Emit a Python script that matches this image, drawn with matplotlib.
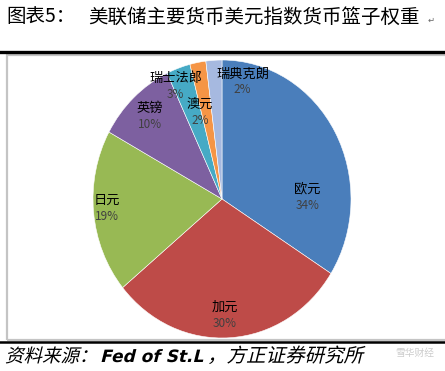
import matplotlib
matplotlib.use("Agg")
import matplotlib.pyplot as plt
from matplotlib.patches import Rectangle, PathPatch
from matplotlib.lines import Line2D
from matplotlib.textpath import TextPath
from matplotlib.font_manager import FontProperties
from matplotlib.transforms import Affine2D, IdentityTransform

plt.rcParams["font.family"] = ["Noto Sans CJK SC", "DejaVu Sans"]

# 数据
currencies = ["欧元", "加元", "日元", "英镑", "瑞士法郎", "澳元", "瑞典克朗"]
weights = [34, 30, 19, 10, 3, 2, 2]
colors = ["#4A7EBB", "#BE4B48", "#98B954", "#7D60A0", "#46AAC5", "#F59546", "#A6B9E0"]

# 标签位置（Excel 最佳匹配放置，数据坐标）
label_pos = [(0.66, 0.02), (0.02, -0.83), (-0.89, -0.06), (-0.56, 0.60),
             (-0.36, 0.82), (-0.17, 0.63), (0.16, 0.85)]

W, H = 445, 371
fig = plt.figure(figsize=(W / 100, H / 100), dpi=100)
fig.patch.set_facecolor("white")

# 外框和分隔线
fig.add_artist(Rectangle((7 / W, 1 - 340 / H), 440 / W, 285 / H,
                         transform=fig.transFigure, fill=False,
                         edgecolor="#c4c4c4", linewidth=1.6))
fig.add_artist(Line2D([0, 1], [1 - 52 / H] * 2, transform=fig.transFigure,
                      color="black", linewidth=2.4))
fig.add_artist(Line2D([0, 1], [1 - 342 / H] * 2, transform=fig.transFigure,
                      color="black", linewidth=1.8))

ax = fig.add_axes([93 / W, 1 - 338 / H, 258 / W, 278 / H])
ax.pie(weights, colors=colors, startangle=90, counterclock=False,
       wedgeprops=dict(edgecolor="white", linewidth=0.4))
ax.set_aspect("auto")
ax.set_xlim(-1, 1)
ax.set_ylim(-1, 1)
ax.axis("off")

for name, w, (x, y) in zip(currencies, weights, label_pos):
    ax.text(x, y + 0.05, name, ha="center", va="center", fontsize=9.5, color="black")
    ax.text(x, y - 0.065, f"{w}%", ha="center", va="center", fontsize=8.5, color="#404040")

# 标题
fig.text(6 / W, 1 - 17 / H, "图表5：", fontsize=14, va="center", ha="left")
fig.text(88 / W, 1 - 17 / H, "美联储主要货币美元指数货币篮子权重",
         fontsize=14, va="center", ha="left")
fig.text(428 / W, 1 - 20 / H, "↵", fontsize=6, va="center", ha="left",
         color="#666666", family=["DejaVu Sans"])

# 资料来源（斜体，用路径做倾斜）
cjk = FontProperties(family=["Noto Sans CJK SC", "DejaVu Sans"])
latin = FontProperties(family=["DejaVu Sans"], weight="bold")
src_parts = [("资料来源：", 5, 18.5, cjk),
             ("Fed of St.L", 100, 17, latin),
             ("，方正证券研究所", 207, 19.5, cjk)]
for s, x0, size, prop in src_parts:
    tp = TextPath((0, 0), s, size=size, prop=prop)
    fig.add_artist(PathPatch(tp, facecolor="black", edgecolor="none",
                             transform=Affine2D().skew_deg(14, 0).translate(x0, H - 362)
                             + IdentityTransform()))
fig.text(395 / W, 1 - 353 / H, "雪华财经", fontsize=7, va="center", ha="left",
         color="#cccccc")

fig.savefig("out.png", dpi=100)
